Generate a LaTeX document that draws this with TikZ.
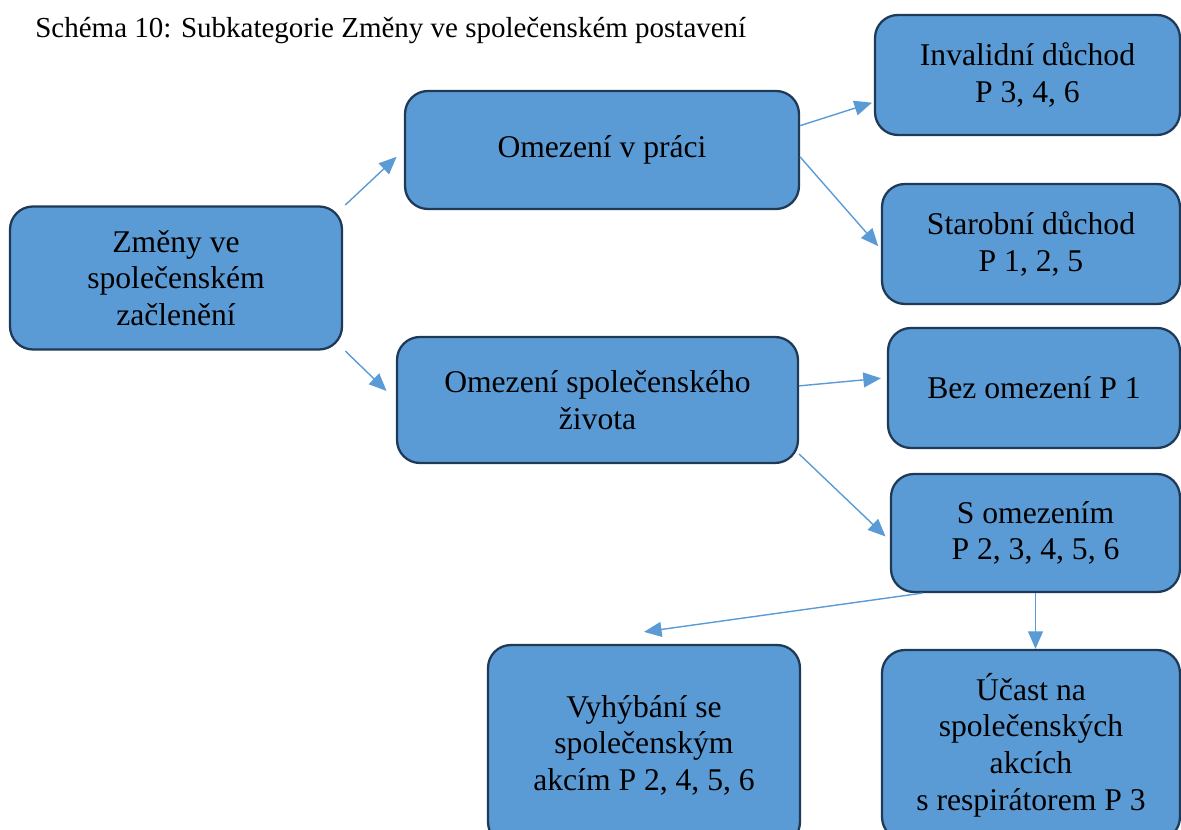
\documentclass[tikz,border=0pt]{standalone}
\usepackage{fontspec}
\setmainfont{Liberation Serif}
\usetikzlibrary{arrows.meta}

\definecolor{boxblue}{HTML}{5B9BD5}
\definecolor{boxline}{HTML}{1F3A56}

\tikzset{
    kategorie/.style={draw=boxline, line width=1.3pt, fill=boxblue, rounded corners=13pt,
        align=center, inner sep=2pt, font=\fontsize{18}{20.8}\selectfont},
    spoj/.style={draw=boxblue, line width=0.8pt, -{Triangle[length=10pt,width=8.5pt]}}
}

\begin{document}
\begin{tikzpicture}[x=0.02cm,y=-0.02cm]
    \useasboundingbox (0,0) rectangle (1181,830);

    \node[anchor=west, inner sep=0pt, font=\fontsize{16.5}{19}\selectfont] (nadpis) at (35,31)
        {Schéma 10: Subkategorie Změny ve společenském postavení};

    \node[kategorie, minimum width=6.64cm, minimum height=2.86cm] (zmeny) at (176,278)
        {Změny ve\\společenském\\začlenění};
    \node[kategorie, minimum width=7.88cm, minimum height=2.36cm] (prace) at (602,150)
        {Omezení v práci};
    \node[kategorie, minimum width=8.02cm, minimum height=2.52cm] (zivot) at (597.5,400)
        {Omezení společenského\\života};

    \node[kategorie, minimum width=6.10cm, minimum height=2.40cm] (invalid) at (1027.5,75)
        {Invalidní důchod\\P 3, 4, 6};
    \node[kategorie, minimum width=5.96cm, minimum height=2.40cm] (starob) at (1031,244)
        {Starobní důchod\\P 1, 2, 5};
    \node[kategorie, minimum width=5.84cm, minimum height=2.40cm] (bez) at (1034,388)
        {Bez omezení P 1};
    \node[kategorie, minimum width=5.78cm, minimum height=2.36cm] (somez) at (1035.5,533)
        {S omezením\\P 2, 3, 4, 5, 6};

    \node[kategorie, minimum width=6.24cm, minimum height=4.0cm] (vyhyb) at (644,745)
        {Vyhýbání se\\společenským\\akcím P 2, 4, 5, 6};
    \node[kategorie, minimum width=5.96cm, minimum height=3.8cm] (ucast) at (1031,745)
        {Účast na\\společenských\\akcích\\s respirátorem P 3};

    \draw[spoj, shorten <=0.06cm, shorten >=0.2cm] (zmeny.23) -- (prace.west);
    \draw[spoj, shorten <=0.06cm, shorten >=0.26cm] (zmeny.-23) -- (zivot.west);
    \draw[spoj, shorten >=0.04cm] (prace.7) -- (invalid.190);
    \draw[spoj, shorten >=0.08cm] (prace.-2) -- (starob.182);
    \draw[spoj, shorten >=0.12cm] (zivot.4) -- (bez.176);
    \draw[spoj, shorten >=0.12cm] (zivot.-15) -- (somez.183);
    \draw[spoj] (somez.208) -- ([yshift=0.24cm]vyhyb.north);
    \draw[spoj] (somez.south) -- (somez.south |- ucast.north);
\end{tikzpicture}
\end{document}
